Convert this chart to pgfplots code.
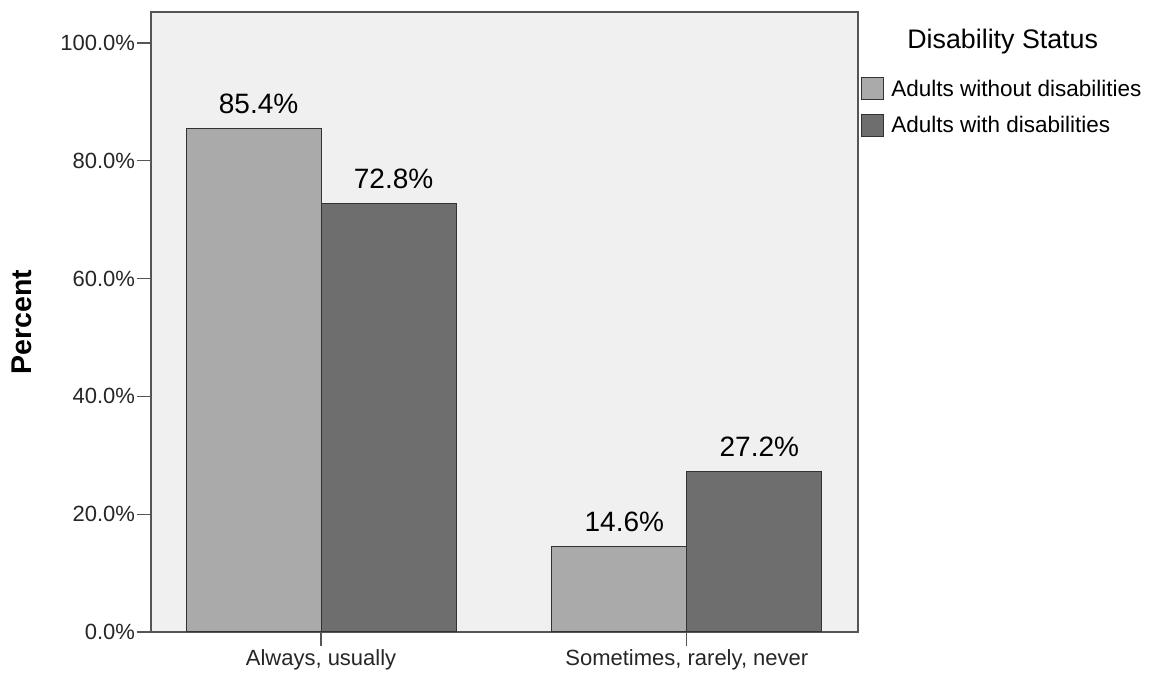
\documentclass[border=0pt]{standalone}
\usepackage{fontspec}
\setmainfont{Liberation Sans}
\usepackage{pgfplots}
\pgfplotsset{compat=1.18}
\definecolor{lightbar}{HTML}{AAAAAA}
\definecolor{darkbar}{HTML}{6E6E6E}
\definecolor{bg}{HTML}{F0F0F0}
\definecolor{framec}{HTML}{555555}
\definecolor{edge}{HTML}{333333}
\pgfplotsset{
  boxlegend/.style={legend image code/.code={\draw[##1] (0pt,-11pt) rectangle (22pt,11pt);}}
}
\begin{document}
\begin{tikzpicture}
\begin{axis}[
  at={(0pt,0pt)}, anchor=south west,
  scale only axis, width=707pt, height=620pt,
  xmin=-0.465, xmax=1.468, ymin=0, ymax=105.26,
  axis background/.style={fill=bg},
  axis line style={framec, line width=1.3pt},
  ybar=0pt, bar width=135pt,
  xtick={0,1},
  xticklabels={{Always, usually},{Sometimes, rarely, never}},
  ytick={0,20,40,60,80,100},
  tick align=outside, major tick length=14pt,
  tick style={framec, line width=1.3pt},
  xtick pos=lower, ytick pos=left,
  /pgf/number format/assume math mode=true,
  yticklabel={\pgfmathprintnumber[fixed,fixed zerofill,precision=1]{\tick}\%},
  ticklabel style={font=\fontsize{22}{26}\selectfont, text=black!85},
  yticklabel style={xshift=1.5pt},
  ylabel={Percent},
  ylabel style={font=\bfseries\fontsize{28.5}{32}\selectfont, at={(axis description cs:-0.182,0.5)}, anchor=center},
  nodes near coords={\pgfmathprintnumber[fixed,fixed zerofill,precision=1]{\pgfplotspointmeta}\%},
  every node near coord/.append style={font=\fontsize{28}{32}\selectfont, anchor=base, yshift=15pt, xshift=5pt, text=black},
  legend style={draw=none, fill=none, inner sep=0pt, at={(rel axis cs:1.0045,0.895)}, anchor=north west,
    row sep=13.5pt, font=\fontsize{22.5}{26}\selectfont, nodes={inner ysep=0pt, inner xsep=7pt}},
  legend cell align=left,
]
\addplot[fill=lightbar, draw=edge, line width=1pt, boxlegend]
  coordinates {(0,85.4) (1,14.6)};
\addplot[fill=darkbar, draw=edge, line width=1pt, boxlegend]
  coordinates {(0,72.8) (1,27.2)};
\legend{Adults without disabilities, Adults with disabilities}
\end{axis}
\node[anchor=base, font=\fontsize{26.8}{30}\selectfont] at (851.7pt,583pt) {Disability Status};
\pgfresetboundingbox
\path[use as bounding box] (-151pt,-47pt) rectangle (1002pt,632pt);
\end{tikzpicture}
\end{document}
